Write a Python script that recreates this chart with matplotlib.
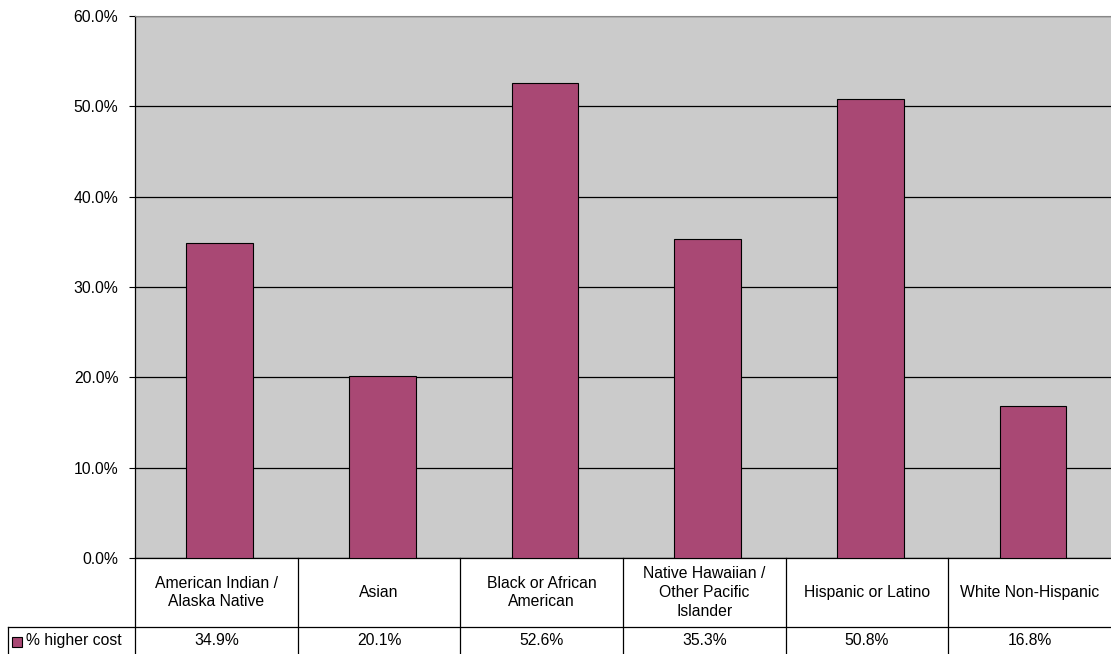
import matplotlib.pyplot as plt
from matplotlib.lines import Line2D
from matplotlib.patches import Rectangle
import matplotlib.transforms as mtransforms

# donnees
categories = ["American Indian /\nAlaska Native", "Asian", "Black or African\nAmerican",
              "Native Hawaiian /\nOther Pacific\nIslander", "Hispanic or Latino", "White Non-Hispanic"]
values = [34.9, 20.1, 52.6, 35.3, 50.8, 16.8]
series_name = "% higher cost"
yticks = [0, 10, 20, 30, 40, 50, 60]

plt.rcParams['font.family'] = ['Liberation Sans', 'DejaVu Sans']
bar_color = '#A94874'
fs = 11.3

W, H = 1111, 654
fig = plt.figure(figsize=(W / 100, H / 100), dpi=100)
ax = fig.add_axes([135 / W, (H - 558) / H, (W - 135) / W, (558 - 16) / H])
ax.set_facecolor('#CBCBCB')

x = [i + 0.02 for i in range(len(values))]
ax.bar(x, values, width=0.41, color=bar_color, edgecolor='black', linewidth=0.8, zorder=3)

ax.set_xlim(-0.5, len(values) - 0.5)
ax.set_ylim(0, 60)
ax.set_yticks(yticks)
ax.set_yticklabels(["%.1f%%" % v for v in yticks], fontsize=fs)
ax.tick_params(axis='y', length=4, width=0.8, pad=8)
ax.set_xticks([])
ax.yaxis.grid(True, color='black', linewidth=0.9, zorder=1)
ax.set_axisbelow(True)

ax.spines['right'].set_visible(False)
ax.spines['top'].set_color('#888888')
ax.spines['left'].set_linewidth(0.9)
ax.spines['bottom'].set_linewidth(0.9)

# tableau de donnees sous le graphique
trans = mtransforms.blended_transform_factory(ax.transData, ax.transAxes)
h_ax = 558 - 16
row1 = -(627 - 558) / h_ax
row2 = -(654 - 558) / h_ax

for i, (cat, v) in enumerate(zip(categories, values)):
    ax.text(i, row1 / 2, cat, transform=trans, ha='center', va='center', fontsize=fs,
            linespacing=1.32, clip_on=False)
    ax.text(i, (row1 + row2) / 2, "%.1f%%" % v, transform=trans, ha='center', va='center',
            fontsize=fs, clip_on=False)
    # separateurs verticaux
    ax.add_line(Line2D([i - 0.5, i - 0.5], [0, row2], transform=trans, color='black',
                       linewidth=0.9, clip_on=False))

# ligne horizontale entre les rangs
y_sep = (H - 627) / H
ax.add_line(Line2D([8 / W, 1], [y_sep, y_sep], transform=fig.transFigure,
                   color='black', linewidth=0.9, clip_on=False))
# cellule de legende
ax.add_line(Line2D([8 / W, 8 / W], [0, y_sep], transform=fig.transFigure,
                   color='black', linewidth=0.9, clip_on=False))
fig.patches.append(Rectangle((12 / W, (H - 647) / H), 10 / W, 10 / H, transform=fig.transFigure,
                             facecolor=bar_color, edgecolor='black', linewidth=0.8))
fig.text(26 / W, (H - 641) / H, series_name, ha='left', va='center', fontsize=fs)

plt.savefig('out.png', dpi=100)
